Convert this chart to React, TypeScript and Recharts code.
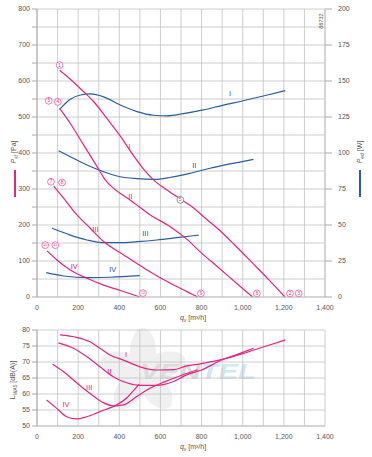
import React from 'react';
import { LineChart, Line, XAxis, YAxis, CartesianGrid, ReferenceDot } from 'recharts';

const MAGENTA = '#e0267f';
const BLUE = '#2b5c9b';
const GRID = '#c2c2c2';
const TEXT = '#555';
const FONT = '"Liberation Sans", Arial, sans-serif';

// x ticks (airflow, m³/h)
const qTicks = [0, 100, 200, 300, 400, 500, 600, 700, 800, 900, 1000, 1100, 1200, 1300, 1400];
const pTicks = [0, 50, 100, 150, 200, 250, 300, 350, 400, 450, 500, 550, 600, 650, 700, 750, 800];
const wTicks = [0, 25, 50, 75, 100, 125, 150, 175, 200];
const dbTicks = [50, 55, 60, 65, 70, 75, 80];

// pressure curves [q, Pa]
const pressureI: [number, number][] = [[110, 630], [162, 605], [227, 570], [275, 543], [340, 496], [405, 447], [470, 392], [520, 354], [565, 326], [630, 298], [697, 272], [760, 248], [820, 218], [886, 186], [960, 145], [1048, 94], [1130, 46], [1205, 0]];
const pressureII: [number, number][] = [[110, 524], [162, 482], [227, 422], [292, 362], [330, 327], [370, 303], [410, 286], [454, 269], [551, 228], [648, 195], [729, 160], [800, 122], [886, 80], [970, 38], [1048, 0]];
const pressureIII: [number, number][] = [[81, 308], [130, 274], [194, 228], [259, 191], [324, 154], [421, 117], [535, 75], [648, 38], [729, 15], [781, 0]];
const pressureIV: [number, number][] = [[49, 128], [97, 103], [162, 75], [243, 52], [324, 33], [405, 18], [500, 0]];

// power curves [q, W]
const powerI: [number, number][] = [[110, 130.3], [162, 137.3], [211, 140.3], [259, 141], [324, 139], [405, 133.3], [486, 128.7], [567, 126.2], [630, 125.8], [711, 127.3], [808, 129.9], [906, 133.3], [1003, 136.3], [1100, 139.6], [1207, 143.3]];
const powerII: [number, number][] = [[105, 101.6], [162, 97.4], [243, 91.7], [324, 87], [405, 83.5], [486, 82.2], [567, 81.7], [646, 83], [743, 85.9], [841, 89.4], [938, 92.4], [1052, 95.6]];
const powerIII: [number, number][] = [[73, 47.7], [162, 43], [243, 39.6], [324, 37.7], [405, 37.7], [486, 38.4], [583, 39.6], [680, 41.2], [786, 43]];
const powerIV: [number, number][] = [[45, 16.9], [130, 14.6], [243, 13.4], [356, 13.7], [499, 14.8]];

// noise curves [q, dB(A)]
const noiseI: [number, number][] = [[112, 78.5], [193, 77.7], [258, 76.3], [306, 74.3], [355, 72.2], [420, 70.6], [501, 68.5], [582, 67.5], [663, 67.6], [724, 68.7], [800, 69.5], [900, 70.8], [1000, 72.6], [1100, 74.7], [1207, 76.9]];
const noiseII: [number, number][] = [[104, 76.0], [177, 74.3], [241, 71.7], [306, 68.5], [371, 65.4], [436, 63.5], [501, 62.7], [582, 62.7], [663, 63.9], [724, 65.9], [800, 67.5], [900, 70.7], [1000, 73.0], [1053, 74.3]];
const noiseIII: [number, number][] = [[76, 69.3], [128, 67.0], [177, 64.4], [225, 61.8], [274, 59.4], [322, 57.3], [371, 56.3], [420, 56.6], [485, 59.2], [549, 61.8], [620, 63.8], [700, 65.8], [781, 67.6]];
const noiseIV: [number, number][] = [[47, 58.1], [96, 55.5], [144, 52.9], [193, 52.2], [241, 52.9], [306, 54.5], [387, 56.6], [440, 59.0], [468, 61.0], [497, 63.1]];

// curve labels
const pressureLabels = [
  { text: 'I', q: 450, v: 417 },
  { text: 'II', q: 454, v: 278 },
  { text: 'III', q: 284, v: 188 },
  { text: 'IV', q: 181, v: 86 },
];
const powerLabels = [
  { text: 'I', q: 938, v: 141.5 },
  { text: 'II', q: 765, v: 91 },
  { text: 'III', q: 527, v: 44 },
  { text: 'IV', q: 368, v: 19.2 },
];
const noiseLabels = [
  { text: 'I', q: 433, v: 72.5 },
  { text: 'II', q: 352, v: 67.0 },
  { text: 'III', q: 254, v: 62.0 },
  { text: 'IV', q: 141, v: 56.6 },
];

// operating point markers [label, q, Pa]
const pointMarkers: { n: string; q: number; p: number }[] = [
  { n: '1', q: 110, p: 644 },
  { n: '5', q: 57, p: 545 },
  { n: '4', q: 101, p: 542 },
  { n: '7', q: 68, p: 320 },
  { n: '8', q: 122, p: 318 },
  { n: '10', q: 40, p: 144 },
  { n: '11', q: 89, p: 144 },
  { n: '12', q: 515, p: 11 },
  { n: '9', q: 797, p: 10 },
  { n: '6', q: 1069, p: 10 },
  { n: '2', q: 1230, p: 10 },
  { n: '3', q: 1272, p: 10 },
];
const nominalPoint = { q: 697, p: 270 };

const toData = (arr: [number, number][]) => arr.map(([q, v]) => ({ q, v }));
const fmtQ = (v: number) => (v % 200 === 0 ? v.toLocaleString('en-US') : '');
const fmtP = (v: number) => (v % 100 === 0 ? String(v) : '');

const tickStyle = { fontSize: 7, fill: TEXT, fontFamily: FONT };

const lineProps = {
  dot: false,
  activeDot: false,
  isAnimationActive: false,
  type: 'monotone' as const,
  strokeWidth: 1.2,
  dataKey: 'v',
};

const makeLabel = (text: string, color: string) => (p: any) => (
  <text x={p.cx} y={p.cy} textAnchor="middle" dominantBaseline="central" fontSize={7.5} fill={color} fontFamily={FONT}>
    {text}
  </text>
);

const makeMarker = (n: string) => (p: any) => (
  <g>
    <circle cx={p.cx} cy={p.cy} r={3.4} fill="#fff" stroke={MAGENTA} strokeWidth={0.6} />
    <text x={p.cx} y={p.cy} textAnchor="middle" dominantBaseline="central" fontSize={n.length > 1 ? 3.6 : 4.6} fill={MAGENTA} fontFamily={FONT}>
      {n}
    </text>
  </g>
);

const nominalShape = (p: any) => (
  <g>
    <circle cx={p.cx} cy={p.cy} r={3.4} fill="#fff" stroke="#666" strokeWidth={0.7} />
    <text x={p.cx} y={p.cy} textAnchor="middle" dominantBaseline="central" fontSize={4.6} fill="#555" fontFamily={FONT}>
      5
    </text>
  </g>
);

export default function App() {
  return (
    <div style={{ position: 'absolute', left: 0, top: 0, width: 372, height: 457, background: '#fff', fontFamily: FONT }}>
      {/* watermark behind the charts */}
      <svg width={372} height={457} style={{ position: 'absolute', left: 0, top: 0 }}>
        <g fill="#f0f0f0">
          {[0, 72, 144, 216, 288].map((a) => (
            <ellipse key={a} cx={143} cy={352} rx={13} ry={24} transform={`rotate(${a} 143 372)`} />
          ))}
          <circle cx={143} cy={372} r={9} />
        </g>
        <text x={140} y={379} fontSize={22} fontStyle="italic" fontWeight="bold" fontFamily={FONT} textLength={116} lengthAdjust="spacingAndGlyphs">
          <tspan fill="#dcdcdc">VEN</tspan>
          <tspan fill="#d3e6f3">TEL</tspan>
        </text>
      </svg>

      {/* top chart: pressure + power */}
      <div style={{ position: 'absolute', left: 0, top: 0 }}>
        <LineChart width={372} height={325} margin={{ top: 9, right: 0, bottom: 0, left: 0 }}>
          <CartesianGrid stroke={GRID} strokeWidth={0.8} yAxisId="p" />
          <XAxis
            type="number"
            dataKey="q"
            domain={[0, 1400]}
            ticks={qTicks}
            tickFormatter={fmtQ}
            interval={0}
            tick={tickStyle}
            tickLine={false}
            tickSize={3}
            tickMargin={5}
            axisLine={{ stroke: GRID }}
            height={28}
            allowDataOverflow
          />
          <YAxis
            yAxisId="p"
            orientation="left"
            domain={[0, 800]}
            ticks={pTicks}
            tickFormatter={fmtP}
            interval={0}
            tick={tickStyle}
            tickSize={5}
            tickMargin={2}
            tickLine={{ stroke: '#aaa' }}
            axisLine={{ stroke: '#aaa' }}
            width={37}
          />
          <YAxis
            yAxisId="w"
            orientation="right"
            domain={[0, 200]}
            ticks={wTicks}
            interval={0}
            tick={tickStyle}
            tickSize={7}
            tickMargin={6}
            tickLine={{ stroke: '#aaa' }}
            axisLine={{ stroke: GRID }}
            width={47}
          />
          <Line {...lineProps} data={toData(powerI)} yAxisId="w" stroke={BLUE} />
          <Line {...lineProps} data={toData(powerII)} yAxisId="w" stroke={BLUE} />
          <Line {...lineProps} data={toData(powerIII)} yAxisId="w" stroke={BLUE} />
          <Line {...lineProps} data={toData(powerIV)} yAxisId="w" stroke={BLUE} />
          <Line {...lineProps} data={toData(pressureI)} yAxisId="p" stroke={MAGENTA} />
          <Line {...lineProps} data={toData(pressureII)} yAxisId="p" stroke={MAGENTA} />
          <Line {...lineProps} data={toData(pressureIII)} yAxisId="p" stroke={MAGENTA} />
          <Line {...lineProps} data={toData(pressureIV)} yAxisId="p" stroke={MAGENTA} />
          {pressureLabels.map((l) => (
            <ReferenceDot key={'pl' + l.text} x={l.q} y={l.v} yAxisId="p" r={0} shape={makeLabel(l.text, MAGENTA)} />
          ))}
          {powerLabels.map((l) => (
            <ReferenceDot key={'wl' + l.text} x={l.q} y={l.v} yAxisId="w" r={0} shape={makeLabel(l.text, BLUE)} />
          ))}
          {pointMarkers.map((m) => (
            <ReferenceDot key={'m' + m.n} x={m.q} y={m.p} yAxisId="p" r={3} shape={makeMarker(m.n)} />
          ))}
          <ReferenceDot x={nominalPoint.q} y={nominalPoint.p} yAxisId="p" r={3} shape={nominalShape} />
        </LineChart>
      </div>

      {/* bottom chart: noise */}
      <div style={{ position: 'absolute', left: 0, top: 325 }}>
        <LineChart width={372} height={132} margin={{ top: 5, right: 47, bottom: 0, left: 0 }}>
          <CartesianGrid stroke={GRID} strokeWidth={0.8} />
          <XAxis
            type="number"
            dataKey="q"
            domain={[0, 1400]}
            ticks={qTicks}
            tickFormatter={fmtQ}
            interval={0}
            tick={tickStyle}
            tickLine={false}
            tickSize={3}
            tickMargin={5}
            axisLine={{ stroke: GRID }}
            height={31}
            allowDataOverflow
          />
          <YAxis
            domain={[50, 80]}
            ticks={dbTicks}
            interval={0}
            tick={tickStyle}
            tickSize={5}
            tickMargin={2}
            tickLine={{ stroke: '#aaa' }}
            axisLine={{ stroke: '#aaa' }}
            width={37}
          />
          <Line {...lineProps} data={toData(noiseI)} stroke={MAGENTA} />
          <Line {...lineProps} data={toData(noiseII)} stroke={MAGENTA} />
          <Line {...lineProps} data={toData(noiseIII)} stroke={MAGENTA} />
          <Line {...lineProps} data={toData(noiseIV)} stroke={MAGENTA} />
          {noiseLabels.map((l) => (
            <ReferenceDot key={'nl' + l.text} x={l.q} y={l.v} r={0} shape={makeLabel(l.text, MAGENTA)} />
          ))}
        </LineChart>
      </div>

      {/* axis titles */}
      <svg width={372} height={457} style={{ position: 'absolute', left: 0, top: 0, pointerEvents: 'none' }}>
        <g fontFamily={FONT} fill={TEXT} fontSize={7}>
          <text transform="translate(16 152) rotate(-90)" textAnchor="middle">
            <tspan fontStyle="italic">P</tspan>
            <tspan fontSize={5} dy={1.5}>sf</tspan>
            <tspan dy={-1.5}> [Pa]</tspan>
          </text>
          <text transform="translate(362 152) rotate(-90)" textAnchor="middle">
            <tspan fontStyle="italic">P</tspan>
            <tspan fontSize={5} dy={1.5}>ed</tspan>
            <tspan dy={-1.5}> [W]</tspan>
          </text>
          <text transform="translate(15 380) rotate(-90)" textAnchor="middle">
            <tspan>L</tspan>
            <tspan fontSize={5} dy={1.5}>WA5</tspan>
            <tspan dy={-1.5}> [dB(A)]</tspan>
          </text>
          <text x={193} y={320} textAnchor="middle">
            <tspan fontStyle="italic">q</tspan>
            <tspan fontSize={5} dy={1.5}>v</tspan>
            <tspan dy={-1.5}> [m³/h]</tspan>
          </text>
          <text x={193} y={449} textAnchor="middle">
            <tspan fontStyle="italic">q</tspan>
            <tspan fontSize={5} dy={1.5}>v</tspan>
            <tspan dy={-1.5}> [m³/h]</tspan>
          </text>
          <text transform="translate(323 21) rotate(-90)" textAnchor="middle" fontSize={5.5}>
            86732
          </text>
        </g>
        <rect x={14} y={170} width={2} height={27} fill={MAGENTA} />
        <rect x={359} y={170} width={2} height={27} fill={BLUE} />
      </svg>
    </div>
  );
}
